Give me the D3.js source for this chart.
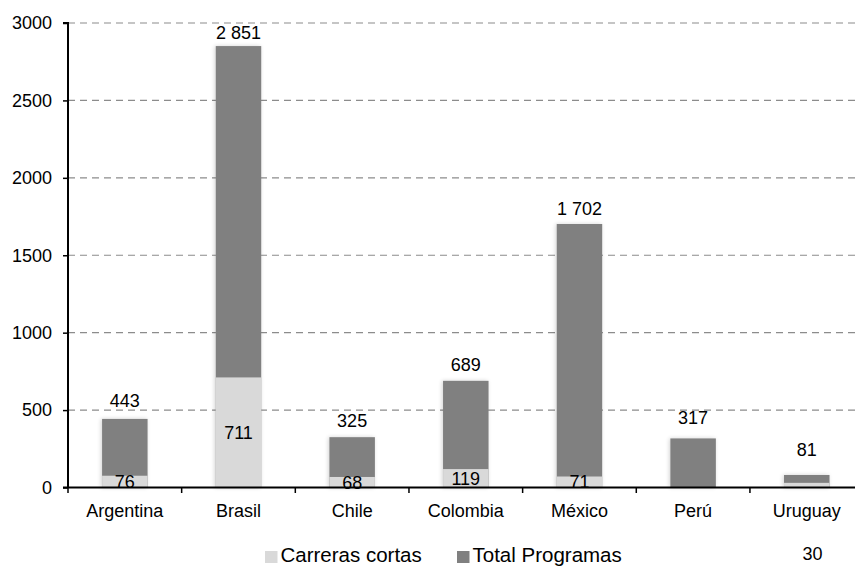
<!DOCTYPE html>
<html><head><meta charset="utf-8">
<script src="https://cdn.jsdelivr.net/npm/d3@7"></script>
<style>html,body{margin:0;padding:0;background:#fff;}svg{display:block;font-family:"Liberation Sans",Arial,sans-serif;}</style>
</head><body><svg id="c" width="855" height="566"></svg>
<script>
const categories = ["Argentina","Brasil","Chile","Colombia","México","Perú","Uruguay"];
const totalProgramas = [443, 2851, 325, 689, 1702, 317, 81];
const carrerasCortas = [76, 711, 68, 119, 71, null, 30];
const totalLabels = ["443","2 851","325","689","1 702","317","81"];
const shortLabels = ["76","711","68","119","71",null,"30"];
const yTicks = [0,500,1000,1500,2000,2500,3000];
const seriesNames = ["Carreras cortas","Total Programas"];
// pixel gap between top of each bar and its total label (layout)
const labelGaps = [12, 7, 10, 10, 9, 14, 19];

const W = 855, H = 566;
const svg = d3.select("#c");
const defs = svg.append("defs");
const f = defs.append("filter").attr("id","sh").attr("x","-30%").attr("y","-30%").attr("width","160%").attr("height","160%");
f.append("feGaussianBlur").attr("in","SourceAlpha").attr("stdDeviation",2.2).attr("result","b");
f.append("feOffset").attr("in","b").attr("dx",-1).attr("dy",0).attr("result","o");
f.append("feComponentTransfer").attr("in","o").attr("result","t")
  .append("feFuncA").attr("type","linear").attr("slope",0.18);
const m = f.append("feMerge");
m.append("feMergeNode").attr("in","t");
m.append("feMergeNode").attr("in","SourceGraphic");

const x0 = 68, plotRight = 863.6, y0 = 487.5, yTop = 23;
const x = d3.scaleBand().domain(categories).range([x0, plotRight]).padding(0);
const y = d3.scaleLinear().domain([0,3000]).range([y0, yTop]);
const barW = 45.5;
const cDark = "#808080", cLight = "#d9d9d9";
const FS = "18px";

// grid
svg.append("g").selectAll("line").data(yTicks.filter(d=>d>0)).join("line")
  .attr("x1", x0).attr("x2", W).attr("y1", d=>y(d)).attr("y2", d=>y(d))
  .attr("stroke","#8c8c8c").attr("stroke-width",1.1).attr("stroke-dasharray","7,5");

// bars
const bars = svg.append("g");
categories.forEach((c,i)=>{
  const cx = x(c) + x.bandwidth()/2;
  const g = bars.append("g").attr("filter","url(#sh)");
  g.append("rect").attr("x", cx-barW/2).attr("width", barW)
    .attr("y", y(totalProgramas[i])).attr("height", y0 - y(totalProgramas[i])).attr("fill", cDark);
  if (carrerasCortas[i] != null) {
    g.append("rect").attr("x", cx-barW/2).attr("width", barW)
      .attr("y", y(carrerasCortas[i])).attr("height", y0 - y(carrerasCortas[i])).attr("fill", cLight);
  }
});

// axes
const yAxis = d3.axisLeft(y).tickValues(yTicks).tickSize(5).tickPadding(11).tickFormat(d3.format("d"));
const ya = svg.append("g").attr("transform",`translate(${x0},0)`).call(yAxis);
ya.select(".domain").attr("stroke","#000").attr("stroke-width",2).attr("d",`M-5,${yTop}H0V${y0}`);
ya.selectAll(".tick line").attr("stroke","#000").attr("stroke-width",1.5);
ya.selectAll(".tick text").attr("font-size",FS).attr("fill","#000").attr("font-family","Liberation Sans, Arial, sans-serif");

const xAxis = d3.axisBottom(x).tickSize(0).tickPadding(17);
const xa = svg.append("g").attr("transform",`translate(0,${y0})`).call(xAxis);
xa.select(".domain").remove();
xa.selectAll(".tick text").attr("font-size",FS).attr("fill","#000").attr("font-family","Liberation Sans, Arial, sans-serif");
svg.append("line").attr("x1",x0-5).attr("x2",W).attr("y1",y0).attr("y2",y0).attr("stroke","#000").attr("stroke-width",2);
// boundary ticks
const bounds = categories.map(c=>x(c)).concat([x(categories[categories.length-1])+x.step()]);
svg.append("g").selectAll("line").data(bounds).join("line")
  .attr("x1",d=>d).attr("x2",d=>d).attr("y1",y0).attr("y2",y0+5.5).attr("stroke","#000").attr("stroke-width",1.5);

// labels
const lab = svg.append("g").attr("font-size",FS).attr("fill","#000");
categories.forEach((c,i)=>{
  const cx = x(c) + x.bandwidth()/2;
  lab.append("text").attr("x",cx).attr("y",y(totalProgramas[i])-labelGaps[i]).attr("text-anchor","middle").text(totalLabels[i]);
  if (shortLabels[i] != null) {
    if (i === categories.length-1) {
      lab.append("text").attr("x",812.5).attr("y",560).attr("text-anchor","middle").text(shortLabels[i]);
    } else {
      const my = (y(carrerasCortas[i]) + y0)/2;
      lab.append("text").attr("x",cx).attr("y",my).attr("dy","0.36em").attr("text-anchor","middle").text(shortLabels[i]);
    }
  }
});

// legend
const leg = svg.append("g");
const legItems = [{name:seriesNames[0], color:cLight, x:265},{name:seriesNames[1], color:cDark, x:457}];
legItems.forEach(d=>{
  leg.append("rect").attr("x",d.x).attr("y",551).attr("width",12.5).attr("height",12).attr("fill",d.color);
  leg.append("text").attr("x",d.x+15.5).attr("y",561.5).attr("font-size","20.5px").attr("fill","#000").text(d.name);
});
</script></body></html>
